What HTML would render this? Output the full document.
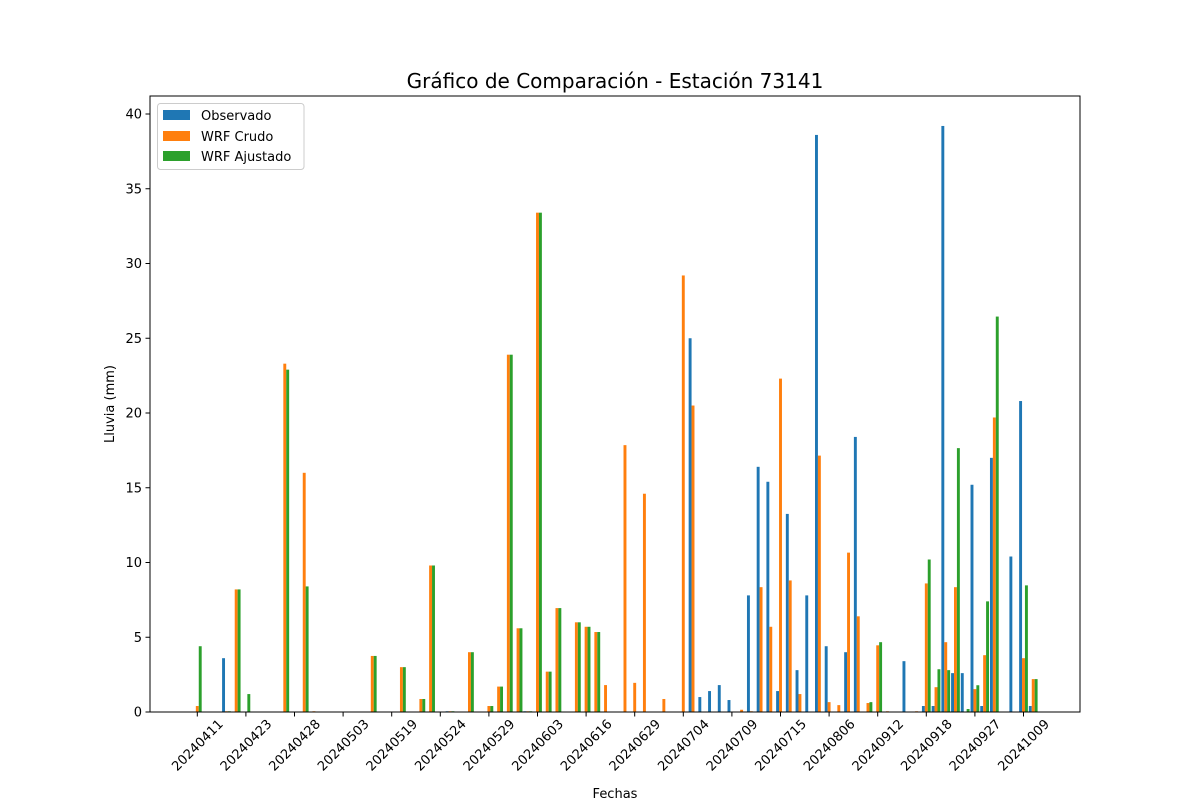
<!DOCTYPE html>
<html><head><meta charset="utf-8"><style>
html,body{margin:0;padding:0;background:#fff;}
svg{display:block;font-family:"DejaVu Sans","Liberation Sans",sans-serif;}
</style></head><body>
<svg id="chart" width="1200" height="800" viewBox="0 0 1200 800">
<rect x="0" y="0" width="1200" height="800" fill="#fff"/>
<text x="615" y="88" font-size="20" text-anchor="middle" fill="#000">Gráfico de Comparación - Estación 73141</text>
<g id="bars"></g>
<rect x="150" y="96" width="930" height="616" fill="none" stroke="#000" stroke-width="1"/>
<g id="yaxis"></g>
<g id="xaxis"></g>
<text x="114" y="404" font-size="13" text-anchor="middle" transform="rotate(-90 114 404)">Lluvia (mm)</text>
<text x="615" y="798" font-size="13" text-anchor="middle">Fechas</text>
<g>
<rect x="157.5" y="103.5" width="146.5" height="66" rx="3" fill="#fff" fill-opacity="0.8" stroke="#ccc"/>
<g><rect x="163" y="110" width="27" height="10" fill="#1f77b4"/><text x="201" y="120" font-size="13">Observado</text></g>
<g><rect x="163" y="131" width="27" height="10" fill="#ff7f0e"/><text x="201" y="141" font-size="13">WRF Crudo</text></g>
<g><rect x="163" y="151" width="27" height="10" fill="#2ca02c"/><text x="201" y="161" font-size="13">WRF Ajustado</text></g>
</g>
</svg>
<script>
const tickLabels = ["20240411","20240423","20240428","20240503","20240519","20240524","20240529","20240603","20240616","20240629","20240704","20240709","20240715","20240806","20240912","20240918","20240927","20241009"];
const yTicks = [0,5,10,15,20,25,30,35,40];
// 87 dates (index 0..86)
const observado = [0,0,0,3.6,0,0,0,0,0,0, 0,0,0,0,0,0,0,0,0,0, 0,0,0,0,0,0,0.05,0,0,0, 0,0,0,0,0.05,0,0,0,0,0, 0,0,0,0,0,0,0,0,0,0, 0,25.0,1.0,1.4,1.8,0.8,0,7.8,16.4,15.4, 1.4,13.25,2.8,7.8,38.6,4.4,0,4.0,18.4,0, 0,0,0,3.4,0,0.4,0.4,39.2,2.6,2.6, 15.2,0.4,17.0,0,10.4,20.8,0.4];
const wrfCrudo = [0.4,0,0,0.05,8.2,0,0,0,0,23.3, 0,16.0,0.05,0,0,0,0,0,3.75,0, 0,3.0,0,0.87,9.8,0,0.05,0,4.0,0, 0.4,1.7,23.9,5.6,0.05,33.4,2.7,6.95,0,6.0, 5.7,5.35,1.8,0,17.85,1.95,14.6,0,0.87,0, 29.2,20.5,0,0,0,0,0.15,0.05,8.35,5.7, 22.3,8.8,1.2,0,17.15,0.66,0.46,10.66,6.4,0.6, 4.46,0.05,0,0,0.05,8.6,1.66,4.67,8.35,0, 1.53,3.8,19.7,0,0,3.6,2.2];
const wrfAjustado = [4.4,0,0,0.05,8.2,1.2,0,0,0,22.9, 0,8.4,0,0,0,0,0,0,3.75,0, 0,3.0,0,0.87,9.8,0,0.05,0,4.0,0, 0.4,1.7,23.9,5.6,0.05,33.4,2.7,6.95,0,6.0, 5.7,5.35,0,0,0,0,0,0,0,0, 0,0,0,0,0,0,0,0,0,0, 0,0,0,0,0,0,0,0,0,0.66, 4.67,0,0,0,0,10.2,2.86,2.8,17.65,0.2, 1.79,7.4,26.45,0,0,8.47,2.2];
const NS='http://www.w3.org/2000/svg';
const x0=197.3, step=9.72, bw=0.3;
function xScale(i){return x0+step*i;}
function yScale(v){return 712-v*14.95;}
const bars=document.getElementById('bars');
const series=[[observado,'#1f77b4',-1,'obs'],[wrfCrudo,'#ff7f0e',0,'crudo'],[wrfAjustado,'#2ca02c',1,'ajustado']];
series.forEach(function(s){
  s[0].forEach(function(v,i){
    if(!(v>0))return;
    const cx=xScale(i+s[2]*bw);
    const r=document.createElementNS(NS,'rect');
    r.setAttribute('x',(cx-bw*step/2).toFixed(2));
    r.setAttribute('y',yScale(v).toFixed(2));
    r.setAttribute('width',(bw*step).toFixed(2));
    r.setAttribute('height',(712-yScale(v)).toFixed(2));
    r.setAttribute('fill',s[1]);
    
    
    bars.appendChild(r);
  });
});
const ya=document.getElementById('yaxis');
yTicks.forEach(function(t){
  const y=yScale(t);
  const l=document.createElementNS(NS,'line');
  l.setAttribute('x1',145.5);l.setAttribute('x2',150);l.setAttribute('y1',y);l.setAttribute('y2',y);l.setAttribute('stroke','#000');
  
  
  ya.appendChild(l);
  const tx=document.createElementNS(NS,'text');
  tx.setAttribute('x',142);tx.setAttribute('y',y+4.5);tx.setAttribute('font-size','13');tx.setAttribute('text-anchor','end');
  tx.textContent=t;
  
  
  ya.appendChild(tx);
});
const xa=document.getElementById('xaxis');
tickLabels.forEach(function(lab,k){
  const x=xScale(k*5);
  const l=document.createElementNS(NS,'line');
  l.setAttribute('x1',x);l.setAttribute('x2',x);l.setAttribute('y1',712);l.setAttribute('y2',716.5);l.setAttribute('stroke','#000');
  
  
  xa.appendChild(l);
  const tx=document.createElementNS(NS,'text');
  const cy=745;
  tx.setAttribute('x',x);tx.setAttribute('y',cy+4.5);tx.setAttribute('font-size','13');tx.setAttribute('text-anchor','middle');
  tx.setAttribute('transform','rotate(-45 '+x+' '+cy+')');
  tx.textContent=lab;
  
  
  xa.appendChild(tx);
});
</script>
</body></html>
